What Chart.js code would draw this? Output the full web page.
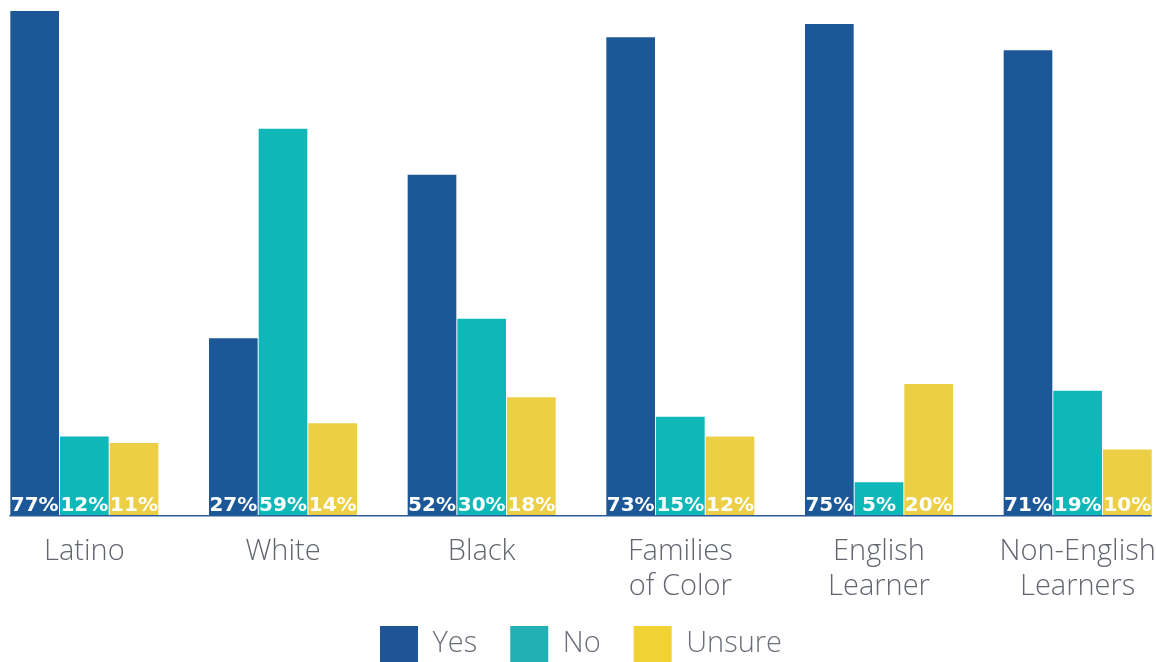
<!DOCTYPE html>
<html>
<head>
<meta charset="utf-8">
<title>Survey responses by group</title>
<script src="https://cdn.jsdelivr.net/npm/chart.js@4.4.1/dist/chart.umd.min.js"></script>
<style>
  html, body { margin: 0; padding: 0; background: #ffffff; }
  #frame { position: relative; width: 1156px; height: 662px; overflow: hidden; }
  #chart { position: absolute; left: -15px; top: 0; }
</style>
</head>
<body>
<div id="frame"><canvas id="chart" width="1192" height="684"></canvas></div>
<script>
// Group labels (multi-line where the label wraps)
const categories = [
  'Latino',
  'White',
  'Black',
  ['Families', 'of Color'],
  ['English', 'Learner'],
  ['Non-English', 'Learners']
];

// Percent of respondents per answer
const yesValues    = [77, 27, 52, 73, 75, 71];
const noValues     = [12, 59, 30, 15, 5, 19];
const unsureValues = [11, 14, 18, 12, 20, 10];

const seriesNames = ['Yes', 'No', 'Unsure'];
const barColors = ['#1c5897', '#0fb8b8', '#edcf46'];
const legendColors = ['#1f5596', '#22b0b5', '#f1d234'];

// White percentage labels sitting at the foot of each bar
const barLabels = {
  id: 'barLabels',
  afterDatasetsDraw(chart) {
    const ctx = chart.ctx;
    const base = chart.scales.y.getPixelForValue(0);
    ctx.save();
    ctx.font = 'bold 20px "DejaVu Sans"';
    ctx.fillStyle = '#ffffff';
    ctx.textAlign = 'center';
    ctx.textBaseline = 'alphabetic';
    chart.data.datasets.forEach((ds, di) => {
      chart.getDatasetMeta(di).data.forEach((bar, i) => {
        ctx.fillText(ds.data[i] + '%', bar.x, base - 4);
      });
    });
    ctx.restore();
  }
};

// Baseline spanning from the first bar to the last
const baseline = {
  id: 'baseline',
  afterDatasetsDraw(chart) {
    const ctx = chart.ctx;
    const first = chart.getDatasetMeta(0).data[0];
    const lastMeta = chart.getDatasetMeta(chart.data.datasets.length - 1);
    const last = lastMeta.data[lastMeta.data.length - 1];
    const y = chart.scales.y.getPixelForValue(0) + 0.75;
    ctx.save();
    ctx.strokeStyle = '#2a5c9c';
    ctx.lineWidth = 1.5;
    ctx.beginPath();
    ctx.moveTo(first.x - first.width / 2 - 1, y);
    ctx.lineTo(last.x + last.width / 2, y);
    ctx.stroke();
    ctx.restore();
  }
};

// Tuck the legend a little closer to the two-line group labels
const legendLift = {
  id: 'legendLift',
  afterLayout(chart) {
    const lg = chart.legend;
    if (lg) { lg.top -= 12; lg.bottom -= 12; }
  }
};

const valueSets = [yesValues, noValues, unsureValues];

new Chart(document.getElementById('chart'), {
  type: 'bar',
  data: {
    labels: categories,
    datasets: valueSets.map((vals, k) => ({
      label: seriesNames[k],
      data: vals,
      backgroundColor: barColors[k],
      borderWidth: 0,
      categoryPercentage: 0.75,
      barPercentage: 0.98
    }))
  },
  options: {
    responsive: false,
    animation: false,
    devicePixelRatio: 1,
    layout: { padding: { top: 11, left: 0, right: 0, bottom: 0 } },
    plugins: {
      tooltip: { enabled: false },
      legend: {
        position: 'bottom',
        labels: {
          boxWidth: 38,
          boxHeight: 36,
          padding: 33,
          color: '#6b707a',
          font: { family: '"Open Sans"', size: 29, weight: '300' },
          generateLabels(chart) {
            return chart.data.datasets.map((ds, i) => ({
              text: ds.label,
              fillStyle: legendColors[i],
              strokeStyle: legendColors[i],
              lineWidth: 0,
              hidden: false,
              datasetIndex: i,
              fontColor: '#6b707a'
            }));
          }
        }
      }
    },
    scales: {
      x: {
        grid: { display: false, drawTicks: false },
        border: { display: false },
        ticks: {
          padding: 19,
          color: '#62666f',
          font: { family: '"Open Sans"', size: 29, weight: '300', lineHeight: '35px' },
          maxRotation: 0,
          autoSkip: false
        },
        afterFit(scale) { scale.height = 90; }
      },
      y: {
        display: false,
        min: 0,
        max: 77
      }
    }
  },
  plugins: [barLabels, baseline, legendLift]
});
</script>
</body>
</html>
